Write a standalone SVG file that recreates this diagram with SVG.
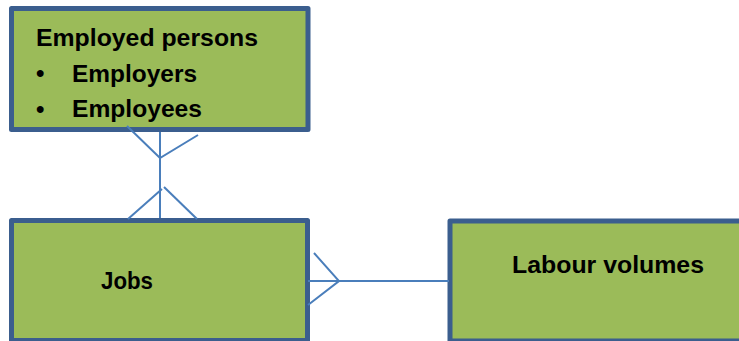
<svg xmlns="http://www.w3.org/2000/svg" width="739" height="341" viewBox="0 0 739 341">
<style>
.box{fill:#9BBB59;stroke:#3B5E8E;stroke-width:5;stroke-linejoin:round}
.t{font-family:"Liberation Sans",Arial,sans-serif;font-weight:bold;font-size:24px;fill:#000}
.c{fill:none;stroke:#4A7EBB;stroke-width:2}
</style>
<rect width="739" height="341" fill="#fff"/>
<g id="employed-persons">
<rect class="box" x="11.5" y="8.5" width="296.5" height="121"/>
<text class="t" x="36" y="46" textLength="222" lengthAdjust="spacingAndGlyphs">Employed persons</text>
<text class="t" x="36" y="81">•</text>
<text class="t" x="72" y="81.5" textLength="125" lengthAdjust="spacingAndGlyphs">Employers</text>
<text class="t" x="36" y="117">•</text>
<text class="t" x="72" y="116.5" textLength="130" lengthAdjust="spacingAndGlyphs">Employees</text>
</g>
<g id="jobs">
<rect class="box" x="11.5" y="220.5" width="296" height="120"/>
<text class="t" x="101" y="289" textLength="52" lengthAdjust="spacingAndGlyphs">Jobs</text>
</g>
<g id="labour-volumes">
<rect class="box" x="450" y="221" width="300" height="120"/>
<text class="t" x="512" y="273" textLength="192" lengthAdjust="spacingAndGlyphs">Labour volumes</text>
</g>
<g id="connectors">
<line class="c" x1="160" y1="132" x2="160" y2="218"/>
<polyline class="c" points="127,126 160,158 198,135"/>
<polyline class="c" points="128,219 162,189"/>
<polyline class="c" points="164,187 197,219"/>
<line class="c" x1="308" y1="281" x2="449" y2="281"/>
<polyline class="c" points="314,253 339,281 308,305"/>
</g>
</svg>
